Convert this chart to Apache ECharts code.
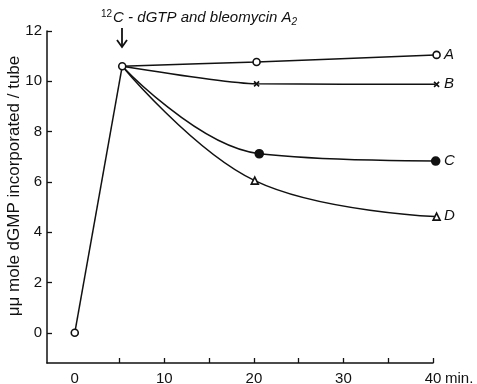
<!DOCTYPE html>
<html>
<head>
<meta charset="utf-8">
<script src="https://cdn.jsdelivr.net/npm/echarts@6/dist/echarts.min.js"></script>
<style>
  html, body { margin: 0; padding: 0; background: #fff; }
  #chart { width: 477px; height: 384px; }
</style>
</head>
<body>
<div id="chart"></div>
<script>
// values (x in min, y in pmole)
const riseData = [[0, 0], [5.3, 10.6]]
const seriesA = [[5.3, 10.6], [20.3, 10.77], [40.4, 11.05]]
const seriesB = [[5.3, 10.6], [20.3, 9.9], [40.4, 9.88]]
const seriesC = [[5.3, 10.6], [20.6, 7.12], [40.3, 6.83]]
const seriesD = [[5.3, 10.6], [20.1, 6.05], [40.4, 4.62]]
const xTickValues = [5, 10, 15, 20, 25, 30, 35, 40]
const xLabelValues = [0, 10, 20, 30, 40]
const yTickValues = [0, 2, 4, 6, 8, 10, 12]

const font = 'Liberation Sans, DejaVu Sans, sans-serif'
const ink = '#111'

const crossPath = 'path://M0,0L10,10M10,0L0,10'
const triPath = 'path://M5,0L10,9L0,9Z'

const makeCurve = (name, data, symbol, fill, size, smooth) => {
  return {
    name: name,
    type: 'line',
    smooth: smooth,
    clip: false,
    data: data.map((p, i) => i === 0 ? { value: p, symbol: 'none' } : { value: p }),
    symbol: symbol,
    symbolSize: size,
    lineStyle: { color: ink, width: 1.5 },
    itemStyle: { color: fill, borderColor: ink, borderWidth: 1.6 },
    endLabel: {
      show: true,
      formatter: name,
      distance: 9,
      fontFamily: font,
      fontStyle: 'italic',
      fontSize: 15,
      color: ink
    },
    z: 3
  }
}

const chart = echarts.init(document.getElementById('chart'))
const option = {
  animation: false,
  backgroundColor: '#fff',
  grid: { left: 47, right: 44, top: 31, bottom: 21, outerBoundsMode: 'none' },
  xAxis: {
    type: 'value',
    min: -3.1,
    max: 40,
    name: 'min.',
    nameLocation: 'end',
    nameGap: 12,
    nameMoveOverlap: false,
    nameTextStyle: {
      fontFamily: font, fontSize: 15, color: ink,
      verticalAlign: 'top', padding: [8, 0, 0, 0]
    },
    axisLine: { show: true, onZero: false, lineStyle: { color: ink, width: 1.5 } },
    axisTick: { show: true, inside: true, length: 5, customValues: xTickValues, lineStyle: { color: ink, width: 1.3 } },
    axisLabel: { customValues: xLabelValues, fontFamily: font, fontSize: 15, color: ink, margin: 8 },
    splitLine: { show: false }
  },
  yAxis: {
    type: 'value',
    min: -1.2,
    max: 12,
    name: 'μμ mole dGMP incorporated / tube',
    nameLocation: 'middle',
    nameGap: 24,
    nameMoveOverlap: false,
    nameTextStyle: { fontFamily: font, fontSize: 17, color: ink, padding: [0, 0, 0, 22] },
    axisLine: { show: true, onZero: false, lineStyle: { color: ink, width: 1.5 } },
    axisTick: { show: true, inside: true, length: 5, customValues: yTickValues, lineStyle: { color: ink, width: 1.3 } },
    axisLabel: { customValues: yTickValues, fontFamily: font, fontSize: 15, color: ink, margin: 5 },
    splitLine: { show: false }
  },
  graphic: [
    {
      type: 'text',
      left: 101,
      top: 9,
      style: {
        text: '{sup|12}C - dGTP and bleomycin A{sub|2}',
        fontFamily: font,
        fontStyle: 'italic',
        fontSize: 15,
        fill: ink,
        rich: {
          sup: { fontSize: 10, padding: [0, 1, 8, 0], fontFamily: font, fill: ink },
          sub: { fontSize: 10, fontStyle: 'italic', padding: [8, 0, 0, 0], fontFamily: font, fill: ink }
        }
      }
    },
    {
      type: 'line',
      shape: { x1: 122, y1: 28, x2: 122, y2: 47 },
      style: { stroke: ink, lineWidth: 1.8 }
    },
    {
      type: 'polyline',
      shape: { points: [[117, 40], [122, 47], [127, 40]] },
      style: { stroke: ink, lineWidth: 1.8, fill: null }
    }
  ],
  series: [
    {
      name: 'rise',
      type: 'line',
      data: riseData,
      symbol: 'circle',
      symbolSize: 7,
      lineStyle: { color: ink, width: 1.5 },
      itemStyle: { color: '#fff', borderColor: ink, borderWidth: 1.6 },
      z: 4
    },
    makeCurve('A', seriesA, 'circle', '#fff', 7, 0.3),
    makeCurve('B', seriesB, crossPath, ink, 5, 0.2),
    makeCurve('C', seriesC, 'circle', ink, 8, 0.4),
    makeCurve('D', seriesD, triPath, '#fff', 7, 0.4)
  ]
}
option && chart.setOption(option)
</script>
</body>
</html>
